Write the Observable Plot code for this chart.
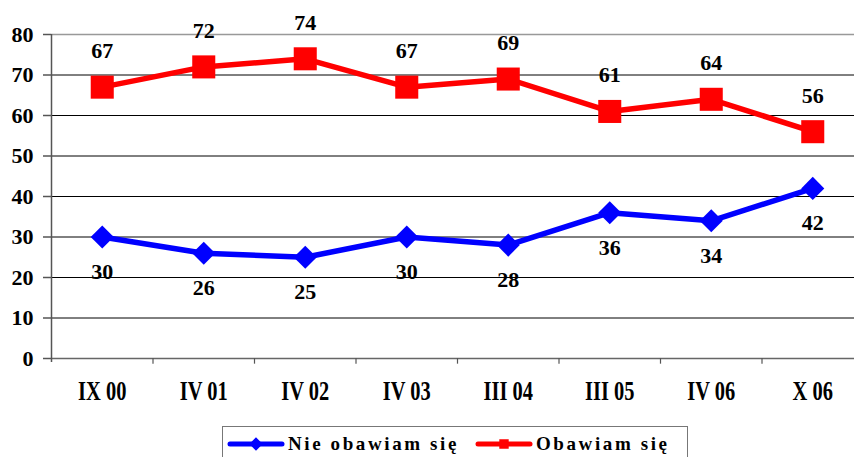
<!DOCTYPE html>
<html><head><meta charset="utf-8">
<script src="https://cdn.jsdelivr.net/npm/d3@7"></script>
<script src="https://cdn.jsdelivr.net/npm/@observablehq/plot@0.6"></script>
<style>
body{margin:0;background:#fff;font-family:"Liberation Serif","Times New Roman",serif;}
#wrap{position:relative;width:854px;height:457px;overflow:hidden;}
#legend{position:absolute;left:222px;top:426px;width:466px;height:40px;border:1px solid #777;box-sizing:border-box;background:#fff;display:flex;align-items:flex-start;padding-top:5px;font-family:"Liberation Serif",serif;font-weight:bold;font-size:19px;letter-spacing:2.6px;}
.item{display:flex;align-items:center;}
</style></head><body>
<div id="wrap"><div id="chart"></div><div id="legend"></div></div>
<script>
const categories = ["IX 00","IV 01","IV 02","IV 03","III 04","III 05","IV 06","X 06"];
const nieObawiam = [30,26,25,30,28,36,34,42];
const obawiam = [67,72,74,67,69,61,64,56];
const yTicks = [0,10,20,30,40,50,60,70,80];
const seriesNames = ["Nie obawiam się","Obawiam się"];

const blue = categories.map((c,i)=>({i:i+0.5,c,v:nieObawiam[i]}));
const red = categories.map((c,i)=>({i:i+0.5,c,v:obawiam[i]}));
const bounds = d3.range(1, categories.length);
const font = "'Liberation Serif', 'Times New Roman', serif";

const chart = Plot.plot({
  width: 854, height: 410,
  marginLeft: 51, marginTop: 34, marginBottom: 52, marginRight: 0,
  style:{fontFamily:font, background:"#fff"},
  x:{type:"linear", domain:[0,categories.length], range:[51,863], axis:null},
  y:{domain:[0,80]},
  marks:[
    Plot.ruleY(yTicks.filter(d=>d>0 && d<80), {stroke:"#000", strokeWidth:1}),
    Plot.ruleY([80], {stroke:"#999", strokeWidth:1.5}),
    Plot.ruleY([0], {stroke:"#666", strokeWidth:1.5}),
    Plot.ruleX([0], {y1:-1, y2:80, stroke:"#555", strokeWidth:1.5}),
    Plot.axisY({ticks:yTicks, tickSize:8, tickPadding:10, stroke:"#555", strokeWidth:1.5, fill:"#000", fontSize:22, fontWeight:"bold", label:null}),
    Plot.ruleX(bounds, {y1:0, y2:-1.4, stroke:"#555", strokeWidth:1.2}),
    Plot.text(categories, {x:(d,i)=>i+0.5, y:0, dy:33, text:d=>d, fontSize:28, fontWeight:"bold", fill:"#000", ariaLabel:()=>"xlabel"}),
    Plot.line(red, {x:"i", y:"v", stroke:"#ff0000", strokeWidth:5.5}),
    Plot.dot(red, {x:"i", y:"v", symbol:"square", r:13, fill:"#ff0000"}),
    Plot.line(blue, {x:"i", y:"v", stroke:"#0000ff", strokeWidth:5.5}),
    Plot.dot(blue, {x:"i", y:"v", symbol:"diamond2", r:10.4, fill:"#0000ff"}),
    Plot.text(red, {x:"i", y:"v", dy:-36, text:d=>String(d.v), fontSize:22, fontWeight:"bold", fill:"#000"}),
    Plot.text(blue, {x:"i", y:"v", dy:35, text:d=>String(d.v), fontSize:22, fontWeight:"bold", fill:"#000"})
  ]
});
document.getElementById("chart").appendChild(chart);
// condense the category labels horizontally, like the original's narrow bold type
d3.select(chart).selectAll('text[aria-label="xlabel"]').each(function(){
  const w = this.getComputedTextLength();
  this.setAttribute("textLength", (w*0.73).toFixed(1));
  this.setAttribute("lengthAdjust", "spacingAndGlyphs");
});

const legend = document.getElementById("legend");
const colors = ["#0000ff","#ff0000"];
seriesNames.forEach((n,k)=>{
  const it = document.createElement("div"); it.className="item";
  it.style.marginLeft = k===0 ? "4px" : "16px";
  const s = d3.create("svg").attr("width",58).attr("height",24);
  s.append("line").attr("x1",3).attr("x2",55).attr("y1",12).attr("y2",12).attr("stroke",colors[k]).attr("stroke-width",5).attr("stroke-linecap","round");
  s.append("path").attr("transform","translate(29,12)").attr("d", d3.symbol(k===0?d3.symbolDiamond2:d3.symbolSquare2, 70)()).attr("fill",colors[k]).attr("stroke",colors[k]).attr("stroke-width",2);
  it.appendChild(s.node());
  const t = document.createElement("span"); t.textContent=n; t.style.marginLeft="3px";
  it.appendChild(t);
  legend.appendChild(it);
});
</script>
</body></html>
